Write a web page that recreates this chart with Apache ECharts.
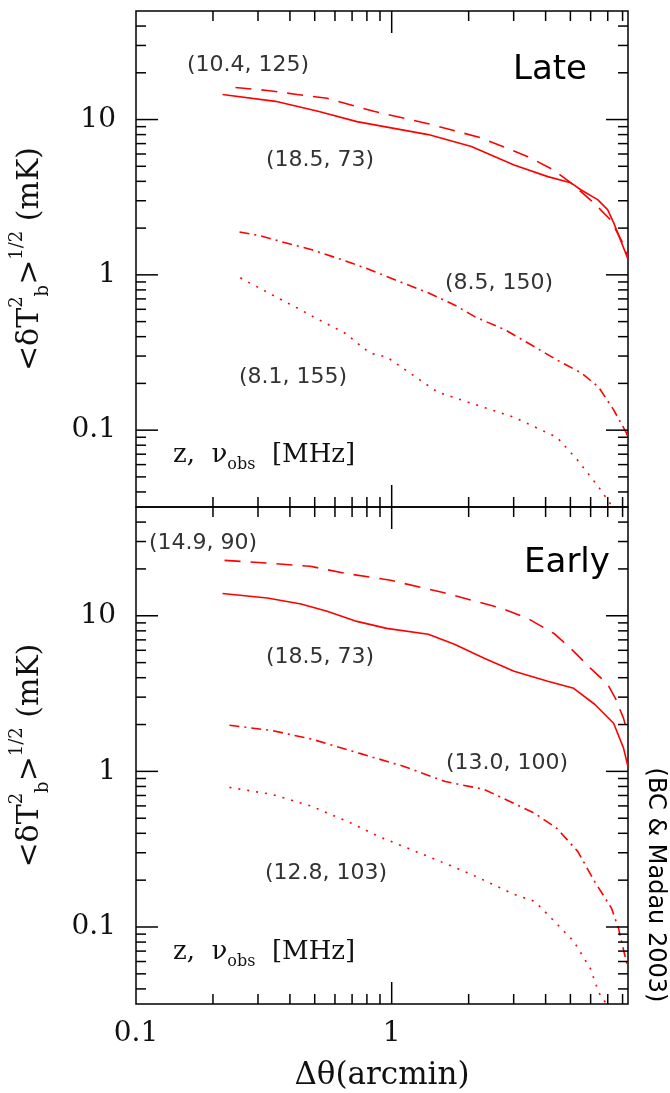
<!DOCTYPE html>
<html><head><meta charset="utf-8">
<script src="https://cdn.jsdelivr.net/npm/echarts@6/dist/echarts.min.js"></script>
<style>html,body{margin:0;padding:0;background:#fff}#c{width:670px;height:1093px}</style>
</head><body><div id="c"></div>
<script>
// ---- axis ranges & ticks ----
const X_MIN = 0.1, X_MAX = 8.4, Y_MIN = 0.032, Y_MAX = 50;
const xMajorTicks = [1];
const xMinorTicks = [0.2,0.3,0.4,0.5,0.6,0.7,0.8,0.9,2,3,4,5,6,7,8];
const yMajorTicks = [0.1, 1, 10];
const yMinorTicks = [0.04,0.05,0.06,0.07,0.08,0.09,0.2,0.3,0.4,0.5,0.6,0.7,0.8,0.9,2,3,4,5,6,7,8,9,20,30,40];
const xTickLabels = [0.1, 1];
const yTickLabels = [0.1, 1, 10];

// ---- Late (top panel) ----
const lateSolid = [[0.218,14.5],[0.351,13.1],[0.515,11.3],[0.731,9.7],[1.39,8.0],[2.05,6.7],[3.01,5.1],[4.08,4.29],[5.01,3.92],[5.49,3.53],[6.39,3.05],[6.99,2.63],[7.38,2.17],[7.85,1.68],[8.4,1.26]];
const lateDashed = [[0.245,16.1],[0.326,15.4],[0.427,14.5],[0.559,13.7],[0.851,11.3],[1.39,9.4],[2.22,7.65],[3.41,5.77],[4.27,4.76],[5.01,3.92],[6.17,2.91],[7.18,2.26],[8.0,1.61],[8.4,1.32]];
const lateDashDot = [[0.254,1.89],[0.304,1.79],[0.373,1.63],[0.488,1.45],[0.622,1.27],[0.785,1.11],[1.03,0.93],[1.39,0.766],[1.76,0.64],[2.12,0.536],[2.78,0.442],[3.63,0.343],[4.43,0.283],[5.53,0.233],[6.45,0.189],[7.38,0.135],[8.28,0.096],[8.4,0.088]];
const lateDotted = [[0.256,0.957],[0.278,0.888],[0.341,0.743],[0.419,0.622],[0.52,0.513],[0.656,0.422],[0.82,0.314],[0.956,0.296],[1.51,0.176],[2.05,0.149],[3.01,0.121],[4.43,0.090],[5.34,0.064],[6.45,0.043],[7.31,0.032]];

// ---- Early (bottom panel) ----
const earlySolid = [[0.218,13.9],[0.326,13.0],[0.442,11.9],[0.559,10.7],[0.731,9.2],[0.956,8.3],[1.39,7.6],[1.76,6.56],[2.30,5.33],[3.01,4.40],[4.08,3.79],[5.15,3.42],[6.22,2.70],[7.38,2.04],[8.07,1.41],[8.4,1.07]];
const earlyDashed = [[0.222,22.7],[0.326,21.8],[0.48,20.8],[0.65,18.8],[0.99,16.9],[1.62,14.0],[2.68,11.2],[3.41,9.6],[4.31,7.7],[5.01,6.18],[6.0,4.59],[6.99,3.63],[7.5,2.95],[8.07,2.19],[8.4,1.72]];
const earlyDashDot = [[0.232,1.98],[0.341,1.83],[0.488,1.61],[0.744,1.31],[1.11,1.08],[1.62,0.86],[2.30,0.766],[2.90,0.641],[3.63,0.537],[4.43,0.43],[5.34,0.306],[6.22,0.196],[7.24,0.132],[7.71,0.098],[8.14,0.067],[8.4,0.055]];
const earlyDotted = [[0.232,0.789],[0.341,0.711],[0.488,0.596],[0.698,0.463],[0.889,0.382],[1.39,0.284],[2.05,0.218],[3.01,0.162],[3.63,0.146],[4.23,0.113],[5.15,0.081],[5.99,0.054],[6.45,0.038],[6.92,0.032]];

const RED = '#ff0000';
const SERIF = 'DejaVu Serif';
const SANS = 'DejaVu Sans';

function near(v, list){ for (const m of list){ if (Math.abs(Math.log10(v) - Math.log10(m)) < 1e-6) return m; } return null; }
function labelFmt(list){ return function(v){ const m = near(v, list); return m === null ? '' : String(m); }; }

// tick data: [value, value, kind(0=x,1=y), major]
const tickData = [].concat(
  xMajorTicks.map(v => [v, 1, 0, 1]),
  xMinorTicks.map(v => [v, 1, 0, 0]),
  yMajorTicks.map(v => [1, v, 1, 1]),
  yMinorTicks.map(v => [1, v, 1, 0])
);
function tickRender(params, api){
  const kind = api.value(2), major = api.value(3);
  const L = major ? 22 : 10;
  const st = {stroke:'#000', lineWidth:1.5};
  if (kind === 0){
    const v = api.value(0);
    const pb = api.coord([v, Y_MIN]), pt = api.coord([v, Y_MAX]);
    return {type:'group', children:[
      {type:'line', shape:{x1:pb[0], y1:pb[1], x2:pb[0], y2:pb[1]-L}, style:st},
      {type:'line', shape:{x1:pt[0], y1:pt[1], x2:pt[0], y2:pt[1]+L}, style:st}
    ]};
  } else {
    const v = api.value(1);
    const pl = api.coord([X_MIN, v]), pr = api.coord([X_MAX, v]);
    return {type:'group', children:[
      {type:'line', shape:{x1:pl[0], y1:pl[1], x2:pl[0]+L, y2:pl[1]}, style:st},
      {type:'line', shape:{x1:pr[0], y1:pr[1], x2:pr[0]-L, y2:pr[1]}, style:st}
    ]};
  }
}

function lineSeries(data, idx, type){
  return {type:'line', xAxisIndex:idx, yAxisIndex:idx, data:data, showSymbol:false, smooth:false,
    lineStyle:{color:RED, width:1.6, type:type}, silent:true, z:3};
}

const yName = '{m|<δT}{sup|2}{sub|b}{m|>}{sup|1/2}{m| (mK)}';
const yNameStyle = {
  rich:{
    m:{fontFamily:SERIF, fontSize:30, lineHeight:44, color:'#111'},
    sup:{fontFamily:SERIF, fontSize:18, lineHeight:18, verticalAlign:'top', color:'#111'},
    sub:{fontFamily:SERIF, fontSize:18, lineHeight:18, verticalAlign:'bottom', color:'#111'}
  }
};
function yAxisCfg(idx){
  return {gridIndex:idx, type:'log', logBase:10, min:Y_MIN, max:Y_MAX,
    axisLine:{show:false}, axisTick:{show:false}, splitLine:{show:false}, minorTick:{show:false},
    axisLabel:{formatter:labelFmt(yTickLabels), fontFamily:SERIF, fontSize:28, color:'#111', margin:20, showMinLabel:true, showMaxLabel:false},
    name:yName, nameLocation:'middle', nameRotate:90, nameGap:84, nameTextStyle:yNameStyle};
}

const zLabel = '{m|z,  ν}{sub|obs}{m|  [MHz]}';
const zRich = {
  m:{fontFamily:SERIF, fontSize:26, lineHeight:36, fill:'#111'},
  sub:{fontFamily:SERIF, fontSize:16, lineHeight:16, verticalAlign:'bottom', fill:'#111'}
};
function ann(text, x, y){
  return {type:'text', x:x, y:y, silent:true, z:10,
    style:{text:text, fontFamily:SANS, fontSize:22, fill:'#333', align:'center', verticalAlign:'middle'}};
}

const option = {
  backgroundColor:'#fff',
  animation:false,
  grid:[
    {left:133, right:42, top:11, height:496, show:true, borderColor:'#000', borderWidth:1.5, backgroundColor:'transparent'},
    {left:133, right:42, top:507, height:497, show:true, borderColor:'#000', borderWidth:1.5, backgroundColor:'transparent'}
  ],
  xAxis:[
    {gridIndex:0, type:'log', logBase:10, min:X_MIN, max:X_MAX, axisLine:{show:false}, axisTick:{show:false}, axisLabel:{show:false}, splitLine:{show:false}},
    {gridIndex:1, type:'log', logBase:10, min:X_MIN, max:X_MAX, axisLine:{show:false}, axisTick:{show:false}, splitLine:{show:false},
      axisLabel:{formatter:labelFmt(xTickLabels), fontFamily:SERIF, fontSize:28, color:'#111', margin:16, showMaxLabel:false},
      name:'Δθ(arcmin)', nameLocation:'middle', nameGap:56, nameTextStyle:{fontFamily:SERIF, fontSize:31, color:'#111'}}
  ],
  yAxis:[yAxisCfg(0), yAxisCfg(1)],
  series:[
    lineSeries(lateSolid, 0, 'solid'),
    lineSeries(lateDashed, 0, [16,10]),
    lineSeries(lateDashDot, 0, [10,5,2,5]),
    lineSeries(lateDotted, 0, [2,7]),
    lineSeries(earlySolid, 1, 'solid'),
    lineSeries(earlyDashed, 1, [16,10]),
    lineSeries(earlyDashDot, 1, [10,5,2,5]),
    lineSeries(earlyDotted, 1, [2,7]),
    {type:'custom', xAxisIndex:0, yAxisIndex:0, data:tickData, renderItem:tickRender, clip:false, silent:true, z:5},
    {type:'custom', xAxisIndex:1, yAxisIndex:1, data:tickData, renderItem:tickRender, clip:false, silent:true, z:5}
  ],
  graphic:[
    ann('(10.4, 125)', 248, 65),
    ann('(18.5, 73)', 320, 160),
    ann('(8.5, 150)', 499, 283),
    ann('(8.1, 155)', 293, 377),
    ann('(14.9, 90)', 203, 543),
    ann('(18.5, 73)', 320, 657),
    ann('(13.0, 100)', 507, 763),
    ann('(12.8, 103)', 326, 873),
    {type:'text', x:173, y:455, silent:true, style:{text:zLabel, rich:zRich, align:'left', verticalAlign:'middle'}},
    {type:'text', x:173, y:952, silent:true, style:{text:zLabel, rich:zRich, align:'left', verticalAlign:'middle'}},
    {type:'text', x:550, y:70, silent:true, style:{text:'Late', fontFamily:SANS, fontSize:34, fill:'#000', align:'center', verticalAlign:'middle'}},
    {type:'text', x:567, y:563, silent:true, style:{text:'Early', fontFamily:SANS, fontSize:34, fill:'#000', align:'center', verticalAlign:'middle'}},
    {type:'text', x:655, y:885, rotation:-Math.PI/2, silent:true, style:{text:'(BC & Madau 2003)', fontFamily:SANS, fontSize:24, fill:'#000', align:'center', verticalAlign:'middle'}}
  ]
};
const chart = echarts.init(document.getElementById('c'), null, {renderer:'canvas'});
chart.setOption(option);
</script>
</body></html>
